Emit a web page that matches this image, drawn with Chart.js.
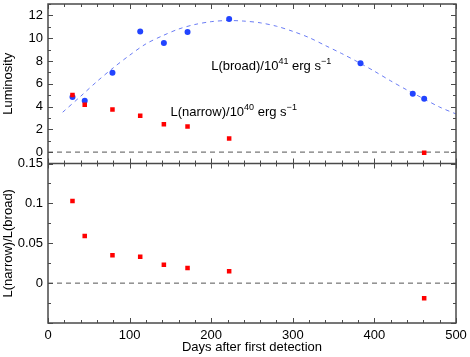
<!DOCTYPE html>
<html>
<head>
<meta charset="utf-8">
<script src="https://cdn.jsdelivr.net/npm/chart.js@4"></script>
<style>
  html, body { margin: 0; padding: 0; background: #fff; }
</style>
</head>
<body>
<canvas id="lumChart" width="470" height="357"></canvas>
<script>
// measured values (days after first detection)
const broadDays = [30, 45, 79, 113, 142, 171, 222, 383, 447, 461];
const broadLum = [4.83, 4.51, 6.96, 10.58, 9.58, 10.54, 11.68, 7.81, 5.12, 4.69];
const narrowDays = [30, 45, 79, 113, 142, 171, 222, 461];
const narrowLum = [5.01, 4.16, 3.73, 3.2, 2.45, 2.24, 1.19, -0.06];
const ratioVals = [0.103, 0.059, 0.035, 0.033, 0.023, 0.019, 0.015, -0.019];

// dashed model curve
const fitDays = [18, 40, 60, 80, 100, 120, 140, 160, 180, 200, 220, 240, 260, 280, 300, 320, 340, 360, 380, 400, 420, 440, 460, 480, 500];
const fitLum = [3.5, 4.9, 6.2, 7.4, 8.5, 9.5, 10.2, 10.8, 11.2, 11.45, 11.55, 11.5, 11.35, 11.05, 10.6, 10.05, 9.35, 8.65, 7.9, 7.1, 6.25, 5.45, 4.7, 3.95, 3.35];

const xTicks = [0, 100, 200, 300, 400, 500];
const lumTicks = [0, 2, 4, 6, 8, 10, 12];
const ratioTicks = [0, 0.05, 0.1, 0.15];

const FONT = '"Liberation Sans", Arial, sans-serif';
const pts = (xs, ys) => xs.map((x, i) => ({ x: x, y: ys[i] }));

// fixed axis boxes, no overflow padding for end labels
const fitY = (axis) => {
    axis.width = 48;
    axis.paddingTop = 0;
    axis.paddingBottom = 0;
};
const fitX = (axis) => {
    axis.height = 34;
    axis.paddingLeft = 0;
    axis.paddingRight = 0;
};

// inward ticks + frames for both panels
const framePlugin = {
    id: "frame",
    afterDraw(chart) {
        const ctx = chart.ctx;
        const xs = chart.scales.x;
        const top = chart.scales.yLum;
        const bot = chart.scales.yRat;
        const L = xs.left, R = xs.right;
        ctx.save();
        ctx.strokeStyle = "#4a4a4a";
        ctx.lineWidth = 1;
        // x ticks every 20 days
        for (let d = 0; d <= 500; d += 20) {
            const px = Math.round(xs.getPixelForValue(d)) + 0.5;
            const len = d % 100 === 0 ? 5 : 3;
            ctx.beginPath();
            ctx.moveTo(px, top.top); ctx.lineTo(px, top.top + len);
            ctx.moveTo(px, top.bottom - len); ctx.lineTo(px, top.bottom + len);
            ctx.moveTo(px, bot.bottom); ctx.lineTo(px, bot.bottom - len);
            ctx.stroke();
        }
        // luminosity ticks every 1
        for (let v = -1; v <= 13; v += 1) {
            const py = Math.round(top.getPixelForValue(v)) + 0.5;
            const len = v % 2 === 0 ? 5 : 3;
            ctx.beginPath();
            ctx.moveTo(L, py); ctx.lineTo(L + len, py);
            ctx.moveTo(R, py); ctx.lineTo(R - len, py);
            ctx.stroke();
        }
        // ratio ticks every 0.025
        for (let k = -2; k <= 6; k++) {
            const py = Math.round(bot.getPixelForValue(k * 0.025)) + 0.5;
            const len = k % 2 === 0 ? 5 : 3;
            ctx.beginPath();
            ctx.moveTo(L, py); ctx.lineTo(L + len, py);
            ctx.moveTo(R, py); ctx.lineTo(R - len, py);
            ctx.stroke();
        }
        ctx.lineWidth = 1.5;
        ctx.strokeRect(L, top.top, R - L, bot.bottom - top.top);
        ctx.beginPath();
        ctx.moveTo(L, top.bottom); ctx.lineTo(R, top.bottom);
        ctx.stroke();
        ctx.restore();
    },
    afterDatasetsDraw(chart) {
        const ctx = chart.ctx;
        const xs = chart.scales.x;
        const ys = chart.scales.yLum;
        const drawRich = (x, y, parts) => {
            let cx = x;
            for (const [t, sup] of parts) {
                ctx.font = (sup ? "9px " : "13px ") + FONT;
                ctx.fillText(t, cx, sup ? y - 5 : y);
                cx += ctx.measureText(t).width;
            }
        };
        ctx.save();
        ctx.fillStyle = "#000";
        ctx.textBaseline = "middle";
        drawRich(xs.getPixelForValue(200), ys.getPixelForValue(7.54),
            [["L(broad)/10", false], ["41", true], [" erg s", false], ["\u22121", true]]);
        drawRich(xs.getPixelForValue(150), ys.getPixelForValue(3.46),
            [["L(narrow)/10", false], ["40", true], [" erg s", false], ["\u22121", true]]);
        ctx.restore();
    }
};

Chart.defaults.font.family = FONT;
Chart.defaults.font.size = 13;
Chart.defaults.color = "#000";

new Chart(document.getElementById("lumChart").getContext("2d"), {
    type: "scatter",
    data: {
        datasets: [
            {
                label: "L(narrow)",
                data: pts(narrowDays, narrowLum),
                yAxisID: "yLum",
                pointStyle: "rect",
                pointRadius: 3.2,
                backgroundColor: "#ff0000",
                borderWidth: 0,
            },
            {
                label: "L(broad)",
                data: pts(broadDays, broadLum),
                yAxisID: "yLum",
                pointStyle: "circle",
                pointRadius: 3,
                backgroundColor: "#2244ff",
                borderWidth: 0,
            },
            {
                label: "ratio",
                data: pts(narrowDays, ratioVals),
                yAxisID: "yRat",
                pointStyle: "rect",
                pointRadius: 3.2,
                backgroundColor: "#ff0000",
                borderWidth: 0,
            },
            {
                label: "fit",
                type: "line",
                data: pts(fitDays, fitLum),
                yAxisID: "yLum",
                borderColor: "#6a7cf4",
                borderWidth: 1,
                borderDash: [4, 4],
                pointRadius: 0,
                tension: 0.3,
                fill: false,
            },
            {
                label: "zeroLum",
                type: "line",
                data: pts([0, 500], [0, 0]),
                yAxisID: "yLum",
                borderColor: "#555",
                borderWidth: 1,
                borderDash: [5, 4],
                pointRadius: 0,
            },
            {
                label: "zeroRat",
                type: "line",
                data: pts([0, 500], [0, 0]),
                yAxisID: "yRat",
                borderColor: "#555",
                borderWidth: 1,
                borderDash: [5, 4],
                pointRadius: 0,
            },
        ],
    },
    options: {
        responsive: false,
        animation: false,
        layout: { padding: { left: 0, right: 14, top: 3, bottom: 0 } },
        plugins: { legend: { display: false }, tooltip: { enabled: false } },
        scales: {
            x: {
                type: "linear",
                min: 0,
                max: 500,
                afterBuildTicks: (axis) => { axis.ticks = xTicks.map((v) => ({ value: v })); },
                afterFit: fitX,
                grid: { display: false, drawTicks: false },
                border: { display: false },
                ticks: { padding: 5, autoSkip: false, maxRotation: 0 },
                title: { display: true, text: "Days after first detection", padding: { top: 0, bottom: 2 } },
            },
            yRat: {
                type: "linear",
                position: "left",
                stack: "panels",
                stackWeight: 1,
                min: -0.05,
                max: 0.15,
                afterBuildTicks: (axis) => { axis.ticks = ratioTicks.map((v) => ({ value: v })); },
                afterFit: fitY,
                grid: { display: false, drawTicks: false },
                border: { display: false },
                ticks: { padding: 5, autoSkip: false, callback: (v) => String(v) },
                title: { display: true, text: "L(narrow)/L(broad)", padding: { top: 1, bottom: 0 } },
            },
            yLum: {
                type: "linear",
                position: "left",
                stack: "panels",
                stackWeight: 1,
                min: -1,
                max: 13,
                afterBuildTicks: (axis) => { axis.ticks = lumTicks.map((v) => ({ value: v })); },
                afterFit: fitY,
                grid: { display: false, drawTicks: false },
                border: { display: false },
                ticks: { padding: 5, autoSkip: false },
                title: { display: true, text: "Luminosity", padding: { top: 1, bottom: 0 } },
            },
        },
    },
    plugins: [framePlugin],
});
</script>
</body>
</html>
